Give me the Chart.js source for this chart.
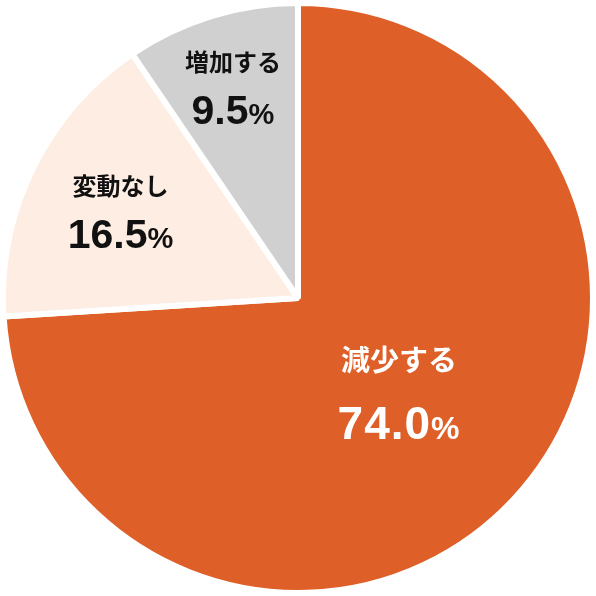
<!DOCTYPE html>
<html>
<head>
<meta charset="utf-8">
<script src="https://cdn.jsdelivr.net/npm/chart.js@4"></script>
<style>
  body { margin: 0; background: #fff; }
  #wrap { width: 596px; height: 596px; }
</style>
</head>
<body>
<div id="wrap"><canvas id="pie"></canvas></div>
<script>
// data
const categories = ['減少する', '変動なし', '増加する'];
const shares = [74.0, 16.5, 9.5];
const sliceColors = ['#DE5F28', '#FDEDE2', '#D0D0D0'];
const labelColors = ['#ffffff', '#111111', '#111111'];

// label look, per slice
const labelRadius = [0.47, 0.67, 0.75];
const nameSize = [29, 24, 24];
const valueSize = [46, 41, 41];
const lineGap = [60, 45, 45];

const FONT = '"Liberation Sans", Arial, "Noto Sans CJK JP", sans-serif';

// draws name + percent inside each slice
const sliceLabels = {
    id: 'sliceLabels',
    afterDatasetsDraw(chart) {
        const ctx = chart.ctx;
        const meta = chart.getDatasetMeta(0);
        meta.data.forEach((arc, i) => {
            const mid = (arc.startAngle + arc.endAngle) / 2;
            const r = arc.outerRadius * labelRadius[i];
            const x = arc.x + Math.cos(mid) * r;
            const y = arc.y + Math.sin(mid) * r;

            ctx.save();
            ctx.fillStyle = labelColors[i];
            ctx.textAlign = 'center';

            // category name
            ctx.textBaseline = 'middle';
            ctx.font = 'bold ' + nameSize[i] + 'px ' + FONT;
            ctx.fillText(categories[i], x, y - lineGap[i] / 2);

            // value with a smaller % sign
            const num = shares[i].toFixed(1);
            const big = 'bold ' + valueSize[i] + 'px ' + FONT;
            const small = 'bold ' + Math.round(valueSize[i] * 0.7) + 'px ' + FONT;
            if (i === 0) ctx.letterSpacing = '1px';
            ctx.font = big;
            const w1 = ctx.measureText(num).width;
            ctx.font = small;
            const w2 = ctx.measureText('%').width;
            const left = x - (w1 + w2) / 2;
            const base = y + lineGap[i] / 2 + valueSize[i] * 0.716 / 2;
            ctx.textAlign = 'left';
            ctx.textBaseline = 'alphabetic';
            ctx.font = big;
            ctx.fillText(num, left, base);
            ctx.font = small;
            ctx.fillText('%', left + w1, base);
            ctx.restore();
        });
    }
};

new Chart(document.getElementById('pie'), {
    type: 'pie',
    data: {
        labels: categories,
        datasets: [{
            data: shares,
            backgroundColor: sliceColors,
            borderColor: '#ffffff',
            borderWidth: 6
        }]
    },
    options: {
        responsive: true,
        maintainAspectRatio: false,
        animation: false,
        events: [],
        plugins: {
            legend: { display: false },
            tooltip: { enabled: false }
        }
    },
    plugins: [sliceLabels]
});
</script>
</body>
</html>
